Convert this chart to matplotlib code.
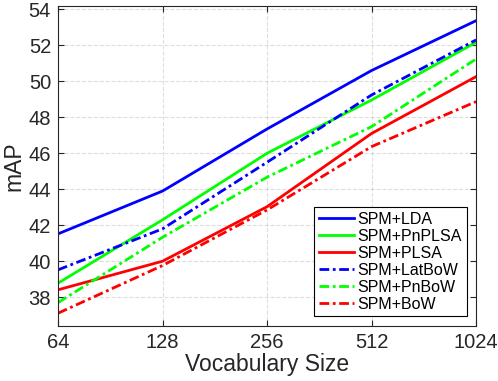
import matplotlib.pyplot as plt
import numpy as np

plt.rcParams['font.family'] = ['Liberation Sans', 'DejaVu Sans']

vocab = [64, 128, 256, 512, 1024]
lda = [41.52, 43.9, 47.35, 50.6, 53.37]
pnplsa = [38.78, 42.3, 46.0, 48.96, 52.17]
plsa = [38.41, 40.0, 43.03, 47.1, 50.26]
latbow = [39.52, 41.8, 45.5, 49.24, 52.3]
pnbow = [37.7, 41.33, 44.67, 47.48, 51.24]
bow = [37.11, 39.76, 42.85, 46.37, 48.87]

txt = '#262626'
dashdot = (0, (3.5, 1.3, 1, 1.3))

fig = plt.figure(figsize=(4.98, 3.81), dpi=100)
ax = fig.add_axes([0.1165, 0.1444, 0.956 - 0.1165, 0.984 - 0.1444])

ax.plot(vocab, lda, color='blue', lw=2, label='SPM+LDA')
ax.plot(vocab, pnplsa, color=(0, 1, 0), lw=2, label='SPM+PnPLSA')
ax.plot(vocab, plsa, color='red', lw=2, label='SPM+PLSA')
ax.plot(vocab, latbow, color='blue', lw=2, ls=dashdot, label='SPM+LatBoW')
ax.plot(vocab, pnbow, color=(0, 1, 0), lw=2, ls=dashdot, label='SPM+PnBoW')
ax.plot(vocab, bow, color='red', lw=2, ls=dashdot, label='SPM+BoW')

ax.set_xscale('log', base=2)
ax.set_xticks(vocab, labels=[str(v) for v in vocab])
ax.minorticks_off()
ax.set_xlim(64, 1024)
ax.set_ylim(36.4, 54.18)
ax.set_yticks(np.arange(38, 55, 2))

ax.grid(True, ls='--', color='#262626', alpha=0.15, lw=0.8)
ax.tick_params(direction='in', top=True, right=True, length=4, colors=txt,
               labelsize=14.5, width=0.8, pad=5)
for s in ax.spines.values():
    s.set_color('#262626')
    s.set_linewidth(0.8)

ax.set_xlabel('Vocabulary Size', fontsize=16.5, color=txt, labelpad=1)
ax.set_ylabel('mAP', fontsize=16.5, color=txt, labelpad=2)

leg = ax.legend(loc='lower right', fontsize=11.5, frameon=True, fancybox=False,
                edgecolor='black', framealpha=1, handlelength=2.2,
                borderpad=0.3, labelspacing=0.12, handletextpad=0.2,
                borderaxespad=0.6)
leg.get_frame().set_linewidth(0.8)

plt.savefig('out.png', dpi=100)
